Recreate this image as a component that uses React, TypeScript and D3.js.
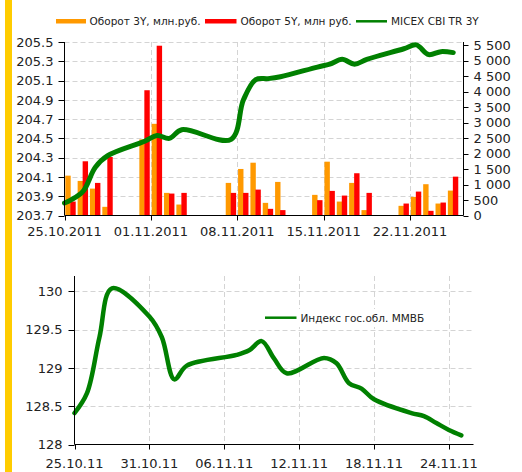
import React from "react";
import * as d3 from "d3";

// торговые дни (общие для обоих графиков)
const tradeDays = [
  "25.10.2011", "26.10.2011", "27.10.2011", "28.10.2011", "31.10.2011",
  "01.11.2011", "02.11.2011", "03.11.2011", "07.11.2011", "08.11.2011",
  "09.11.2011", "10.11.2011", "11.11.2011", "14.11.2011", "15.11.2011",
  "16.11.2011", "17.11.2011", "18.11.2011", "21.11.2011", "22.11.2011",
  "23.11.2011", "24.11.2011", "25.11.2011",
];
const turnover3Y = [1286, 1116, 868, 280, 2457, 2959, 730, 354, 1052, 1502, 1704, 408, 1084, 666, 1737, 450, 1052, 174, 312, 601, 1010, 386, 804];
const turnover5Y = [450, 1750, 1052, 1888, 4043, 5480, 708, 730, 730, 730, 836, 215, 174, 495, 794, 643, 1364, 730, 386, 772, 151, 418, 1254];

// MICEX CBI TR 3Y: точки в середине дня
const micexTimes = ["25.10.2011 00:00", ...tradeDays.map(d => d + " 12:00")];
const micexValues = [203.83, 203.86, 203.95, 204.2, 204.32, 204.47, 204.53, 204.5, 204.59, 204.49, 204.9, 205.11, 205.12, 205.14, 205.24, 205.27, 205.32, 205.27, 205.32, 205.43, 205.47, 205.37, 205.4, 205.39];

// Индекс гос.обл. ММВБ
const govIndex = [128.41, 128.67, 129.4, 130.04, 129.67, 129.4, 128.85, 129.03, 129.17, 129.23, 129.35, 129.12, 128.93, 129.13, 129.06, 128.8, 128.73, 128.59, 128.41, 128.37, 128.28, 128.19, 128.12];

const leftTicks = [203.7, 203.9, 204.1, 204.3, 204.5, 204.7, 204.9, 205.1, 205.3, 205.5];
const rightTicks = [0, 500, 1000, 1500, 2000, 2500, 3000, 3500, 4000, 4500, 5000, 5500];
const topDateTicks = ["25.10.2011", "01.11.2011", "08.11.2011", "15.11.2011", "22.11.2011"];
const bottomTicks = [128, 128.5, 129, 129.5, 130];
const bottomDateTicks = ["25.10.2011", "31.10.2011", "06.11.2011", "12.11.2011", "18.11.2011", "24.11.2011"];

const seriesNames = ["Оборот 3Y, млн.руб.", "Оборот 5Y, млн руб.", "MICEX CBI TR 3Y"];
const bottomName = "Индекс гос.обл. ММВБ";

const parseDay = d3.timeParse("%d.%m.%Y");
const parseTime = d3.timeParse("%d.%m.%Y %H:%M");

const ORANGE = "#ff9900";
const RED = "#ff0000";
const GREEN = "#008000";
const GRID = "#d4d4d4";
const TEXT = "#222";
const FONT = "'DejaVu Sans', Verdana, sans-serif";

export default function App() {
  // верхний график
  const t = { left: 64.5, right: 463.5, top: 42, bottom: 215.5 };
  const x1 = d3.scaleTime()
    .domain([parseDay("25.10.2011")!, parseTime("26.11.2011 07:00")!])
    .range([t.left, 463]);
  const yL = d3.scaleLinear().domain([203.7, 205.5]).range([t.bottom, t.top]);
  const yR = d3.scaleLinear().domain([0, 5600]).range([t.bottom, t.top]);
  const fmtL = d3.format(".1f");
  const fmtR = (v: number) => d3.format(",")(v).replace(",", " ");
  const fmtTop = d3.timeFormat("%d.%m.%Y");

  const micexLine = d3.line<number>()
    .x((_, i) => x1(parseTime(micexTimes[i])!))
    .y(d => yL(d))
    .curve(d3.curveCatmullRom.alpha(0.5));

  // нижний график
  const b = { left: 74.5, right: 473.5, top: 276, bottom: 444.5 };
  const x2 = d3.scaleTime()
    .domain([parseDay("25.10.2011")!, parseDay("26.11.2011")!])
    .range([b.left, 473.8]);
  const y2 = d3.scaleLinear().domain([128, 130.2]).range([b.bottom, b.top]);
  const fmtBottom = d3.timeFormat("%d.%m.%y");

  const govLine = d3.line<number>()
    .x((_, i) => x2(parseDay(tradeDays[i])!))
    .y(d => y2(d))
    .curve(d3.curveCatmullRom.alpha(0.5));

  return (
    <div style={{ position: "absolute", left: 0, top: 0 }}>
      <svg width={522} height={472} style={{ display: "block", background: "#fff" }} fontFamily={FONT}>
        <rect x={5} y={0} width={7} height={472} fill="#ffcc00" />

        {/* легенда сверху */}
        <g fontSize={10.5} fill={TEXT}>
          <rect x={56} y={19} width={30} height={4.5} fill={ORANGE} />
          <text x={89.5} y={25}>{seriesNames[0]}</text>
          <rect x={205} y={19} width={31.5} height={4.5} fill={RED} />
          <text x={240.5} y={25}>{seriesNames[1]}</text>
          <line x1={356} x2={387} y1={21.3} y2={21.3} stroke={GREEN} strokeWidth={2.5} />
          <text x={391} y={25}>{seriesNames[2]}</text>
        </g>

        {/* сетка */}
        <g stroke={GRID} strokeDasharray="5,3">
          {leftTicks.slice(1).map(v => (
            <line key={v} x1={t.left} x2={t.right} y1={Math.round(yL(v)) + 0.5} y2={Math.round(yL(v)) + 0.5} />
          ))}
          {topDateTicks.slice(1).map(d => {
            const xx = Math.round(x1(parseDay(d)!)) + 0.5;
            return <line key={d} x1={xx} x2={xx} y1={t.top} y2={t.bottom} />;
          })}
        </g>

        {/* столбцы */}
        {tradeDays.map((d, i) => {
          const xx = x1(parseDay(d)!);
          return (
            <g key={d}>
              <rect x={xx + 0.8} y={yR(turnover3Y[i])} width={5.4} height={t.bottom - yR(turnover3Y[i])} fill={ORANGE} />
              <rect x={xx + 5.8} y={yR(turnover5Y[i])} width={5.4} height={t.bottom - yR(turnover5Y[i])} fill={RED} />
            </g>
          );
        })}

        <path d={micexLine(micexValues) || ""} fill="none" stroke={GREEN} strokeWidth={5} strokeLinejoin="round" strokeLinecap="round" />

        {/* оси верхнего графика */}
        <g stroke="#000" strokeWidth={1}>
          <line x1={t.left} x2={t.left} y1={t.top} y2={t.bottom} />
          <line x1={t.right} x2={t.right} y1={t.top} y2={t.bottom} />
          <line x1={t.left} x2={t.right} y1={t.bottom} y2={t.bottom} />
          {leftTicks.map(v => (
            <line key={"l" + v} x1={t.left - 6} x2={t.left} y1={Math.round(yL(v)) + 0.5} y2={Math.round(yL(v)) + 0.5} />
          ))}
          {rightTicks.map(v => (
            <line key={"r" + v} x1={t.right} x2={t.right + 5} y1={Math.round(yR(v)) + 0.5} y2={Math.round(yR(v)) + 0.5} />
          ))}
          {topDateTicks.map(d => {
            const xx = Math.round(x1(parseDay(d)!)) + 0.5;
            return <line key={d} x1={xx} x2={xx} y1={t.bottom} y2={t.bottom + 5} />;
          })}
        </g>
        <g fontSize={13} fill={TEXT}>
          {leftTicks.map(v => (
            <text key={v} x={t.left - 11} y={yL(v)} dy="0.36em" textAnchor="end">{fmtL(v)}</text>
          ))}
          {rightTicks.map(v => (
            <text key={v} x={t.right + 10} y={yR(v)} dy="0.36em">{fmtR(v)}</text>
          ))}
          {topDateTicks.map(d => (
            <text key={d} x={x1(parseDay(d)!)} y={235.5} textAnchor="middle">{fmtTop(parseDay(d)!)}</text>
          ))}
        </g>

        {/* нижний график: сетка */}
        <g stroke={GRID} strokeDasharray="5,3">
          {bottomTicks.slice(1).map(v => (
            <line key={v} x1={b.left} x2={b.right} y1={Math.round(y2(v)) + 0.5} y2={Math.round(y2(v)) + 0.5} />
          ))}
          {bottomDateTicks.slice(1).map(d => {
            const xx = Math.round(x2(parseDay(d)!)) + 0.5;
            return <line key={d} x1={xx} x2={xx} y1={b.top} y2={b.bottom} />;
          })}
        </g>

        <path d={govLine(govIndex) || ""} fill="none" stroke={GREEN} strokeWidth={4.5} strokeLinejoin="round" strokeLinecap="round" />

        {/* легенда снизу */}
        <rect x={263} y={309} width={162} height={18} fill="#fff" />
        <line x1={265} x2={296.5} y1={317.7} y2={317.7} stroke={GREEN} strokeWidth={2.5} />
        <text x={300.5} y={321.5} fontSize={10.5} fill={TEXT}>{bottomName}</text>

        <g stroke="#000" strokeWidth={1}>
          <line x1={b.left} x2={b.left} y1={b.top} y2={b.bottom} />
          <line x1={b.left} x2={b.right} y1={b.bottom} y2={b.bottom} />
          {bottomTicks.map(v => (
            <line key={v} x1={b.left - 6} x2={b.left} y1={Math.round(y2(v)) + 0.5} y2={Math.round(y2(v)) + 0.5} />
          ))}
          {bottomDateTicks.map(d => {
            const xx = Math.round(x2(parseDay(d)!)) + 0.5;
            return <line key={d} x1={xx} x2={xx} y1={b.bottom} y2={b.bottom + 5} />;
          })}
        </g>
        <g fontSize={13} fill={TEXT}>
          {bottomTicks.map(v => (
            <text key={v} x={b.left - 12} y={y2(v)} dy="0.36em" textAnchor="end">{String(v)}</text>
          ))}
          {bottomDateTicks.map(d => (
            <text key={d} x={x2(parseDay(d)!)} y={467.5} textAnchor="middle">{fmtBottom(parseDay(d)!)}</text>
          ))}
        </g>
      </svg>
    </div>
  );
}
